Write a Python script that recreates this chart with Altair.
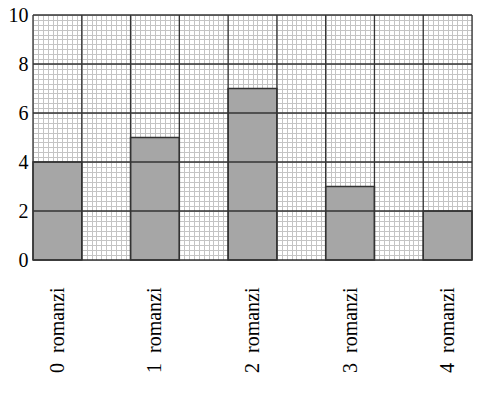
import altair as alt
import pandas as pd
import numpy as np

categories = ["0  romanzi", "1  romanzi", "2  romanzi", "3  romanzi", "4  romanzi"]
values = [4, 5, 7, 3, 2]
bar_slots = [0, 2, 4, 6, 8]  # column index of each bar (gaps between)
y_ticks = [0, 2, 4, 6, 8, 10]

n_cols = 9
bars = pd.DataFrame({
    "cat": categories,
    "value": values,
    "base": [0] * len(values),
    "x0": bar_slots,
    "x1": [s + 1 for s in bar_slots],
})

fine_x = [round(v, 2) for v in np.arange(0, n_cols + 0.001, 0.1)]
fine_y = [round(v, 2) for v in np.arange(0, 10.001, 0.2)]
label_pos = [s + 0.5 for s in bar_slots]
label_map = {str(p): c.replace("  ", "\u00a0 ") for p, c in zip(label_pos, categories)}
expr = " : ".join(
    f"abs(datum.value - {p}) < 0.01 ? '{label_map[str(p)]}'" for p in label_pos
) + " : ''"

xscale = alt.Scale(domain=[0, n_cols], nice=False, zero=False)
yscale = alt.Scale(domain=[0, 10], nice=False)

ax_x = alt.Axis(values=fine_x, grid=True, gridColor="#c4c4c4", gridWidth=1,
                ticks=False, domain=False, labelExpr=expr, labelAngle=270,
                labelFont="Liberation Serif", labelFontSize=20, labelColor="#000",
                labelPadding=27, title=None, labelOverlap=False, labelBound=False)
ax_y = alt.Axis(values=fine_y, grid=True, gridColor="#c4c4c4", gridWidth=1,
                ticks=False, domain=False,
                labelExpr="abs(datum.value - round(datum.value / 2) * 2) < 0.01 ? format(datum.value, 'd') : ''",
                labelFont="Liberation Serif", labelFontSize=20, labelColor="#000",
                labelPadding=5, title=None, labelOverlap=False, labelBound=False)

bar_layer = alt.Chart(bars).mark_rect(color="#a6a6a6", stroke="#333333", strokeWidth=1.5).encode(
    x=alt.X("x0:Q", scale=xscale, axis=ax_x),
    x2="x1:Q",
    y=alt.Y("value:Q", scale=yscale, axis=ax_y),
    y2="base:Q",
)

major_x = pd.DataFrame({"mx": list(range(0, n_cols + 1))})
major_y = pd.DataFrame({"my": y_ticks})

vrules = alt.Chart(major_x).mark_rule(color="#333333", strokeWidth=1.3).encode(
    x=alt.X("mx:Q", scale=xscale, axis=ax_x)
)
hrules = alt.Chart(major_y).mark_rule(color="#333333", strokeWidth=1.3).encode(
    y=alt.Y("my:Q", scale=yscale, axis=ax_y)
)

chart = alt.layer(bar_layer, vrules, hrules).properties(
    width=439, height=245,
    autosize=alt.AutoSizeParams(type="none"),
    padding={"left": 33, "top": 15, "right": 20, "bottom": 133},
).configure_view(stroke=None)

chart.save("out.html", embed_options={"renderer": "svg", "actions": False})
